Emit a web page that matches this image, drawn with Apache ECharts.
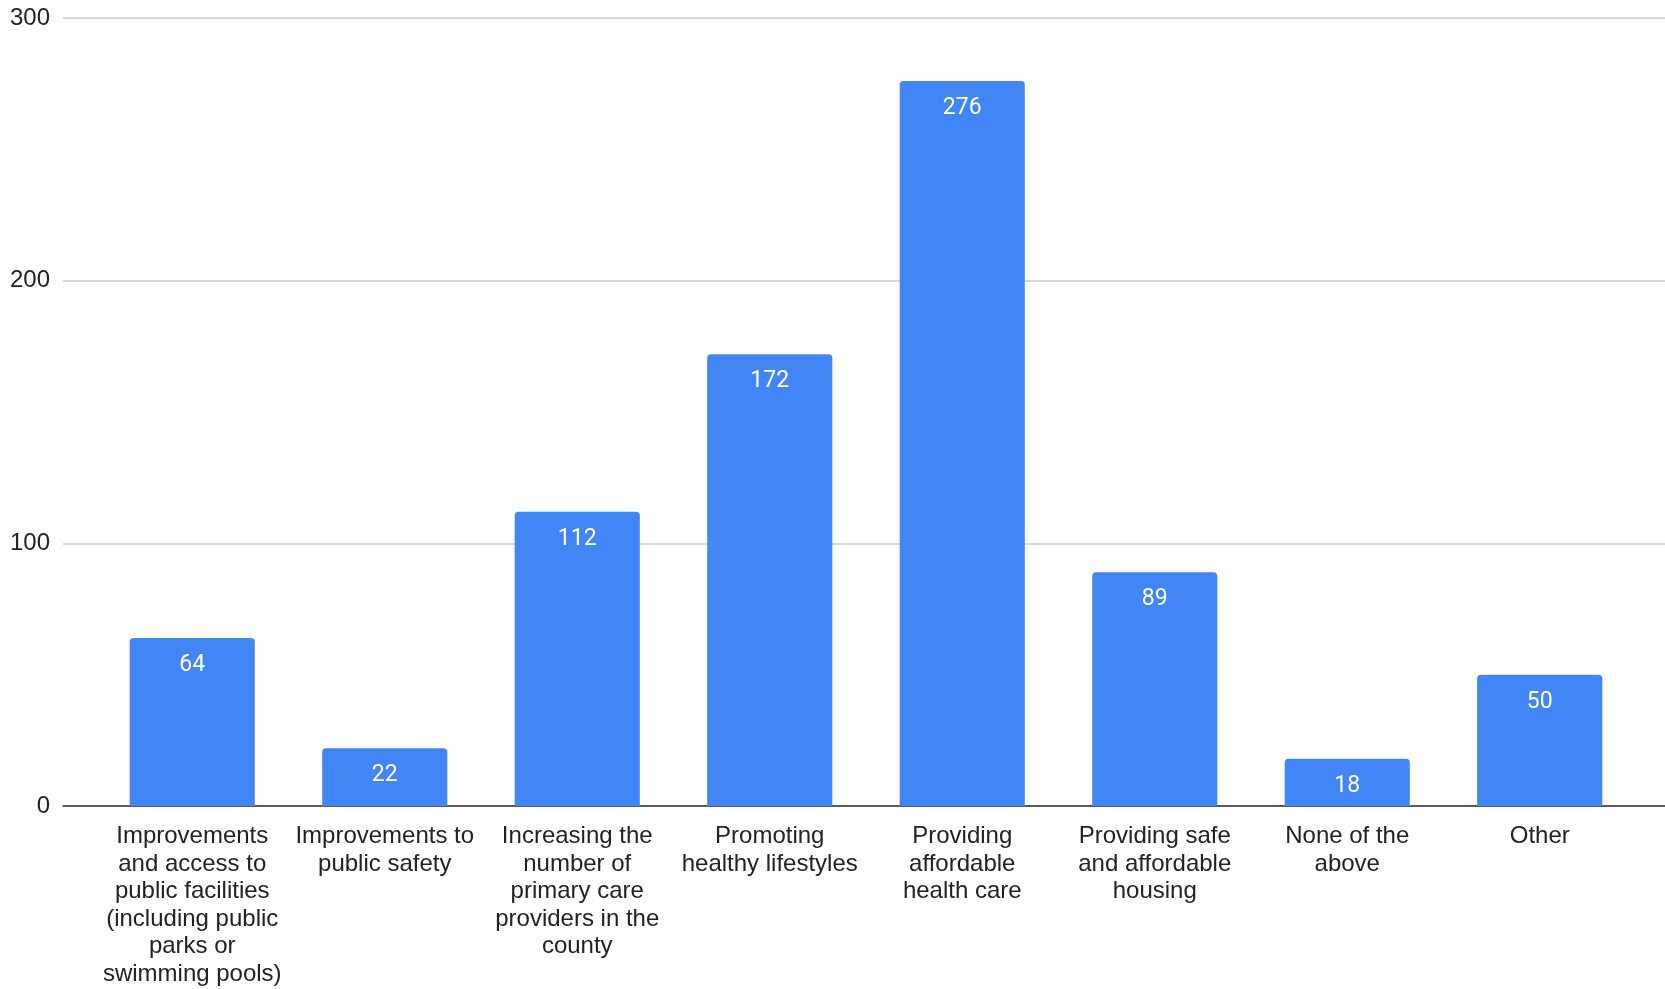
<!DOCTYPE html>
<html>
<head>
<meta charset="utf-8">
<script src="https://cdn.jsdelivr.net/npm/echarts@6/dist/echarts.min.js"></script>
<style>html,body{margin:0;padding:0;background:#fff}#c{width:1665px;height:989px}</style>
</head>
<body>
<div id="c"></div>
<script>
const categories = [
  "Improvements\nand access to\npublic facilities\n(including public\nparks or\nswimming pools)",
  "Improvements to\npublic safety",
  "Increasing the\nnumber of\nprimary care\nproviders in the\ncounty",
  "Promoting\nhealthy lifestyles",
  "Providing\naffordable\nhealth care",
  "Providing safe\nand affordable\nhousing",
  "None of the\nabove",
  "Other"
];
const values = [64, 22, 112, 172, 276, 89, 18, 50];
const yTicks = [0, 100, 200, 300];

const chart = echarts.init(document.getElementById('c'));
chart.setOption({
  animation: false,
  grid: [
    {left: 63, right: 0, top: 18, bottom: 183},
    {left: 96, right: 29, top: 18, bottom: 183}
  ],
  xAxis: [
    {gridIndex: 0, type: 'value', min: 0, max: 1, z: 0, axisLine: {show: true, onZero: false, lineStyle: {color: '#333', width: 1.5}},
     axisTick: {show: false}, axisLabel: {show: false}, splitLine: {show: false}},
    {gridIndex: 1, type: 'category', data: categories, axisLine: {show: false}, axisTick: {show: false},
     axisLabel: {interval: 0, margin: 17, color: '#222', fontFamily: 'Liberation Sans, Arial, sans-serif', fontSize: 24, lineHeight: 27.5}}
  ],
  yAxis: [
    {gridIndex: 0, type: 'value', min: yTicks[0], max: yTicks[yTicks.length - 1], interval: 100, z: 0,
     axisLine: {show: false}, axisTick: {show: false},
     axisLabel: {margin: 13, color: '#222', fontFamily: 'Liberation Sans, Arial, sans-serif', fontSize: 24},
     splitLine: {lineStyle: {color: '#cccccc', width: 1.5}}},
    {gridIndex: 1, type: 'value', min: yTicks[0], max: yTicks[yTicks.length - 1], show: false}
  ],
  series: [{
    type: 'bar', xAxisIndex: 1, yAxisIndex: 1, data: values, barCategoryGap: '35%', z: 5,
    itemStyle: {color: '#4285F4', borderRadius: [4, 4, 0, 0]},
    label: {show: true, position: 'insideTop', distance: 16, color: '#fff', fontFamily: 'Roboto, sans-serif', fontSize: 23}
  }]
});
</script>
</body>
</html>
